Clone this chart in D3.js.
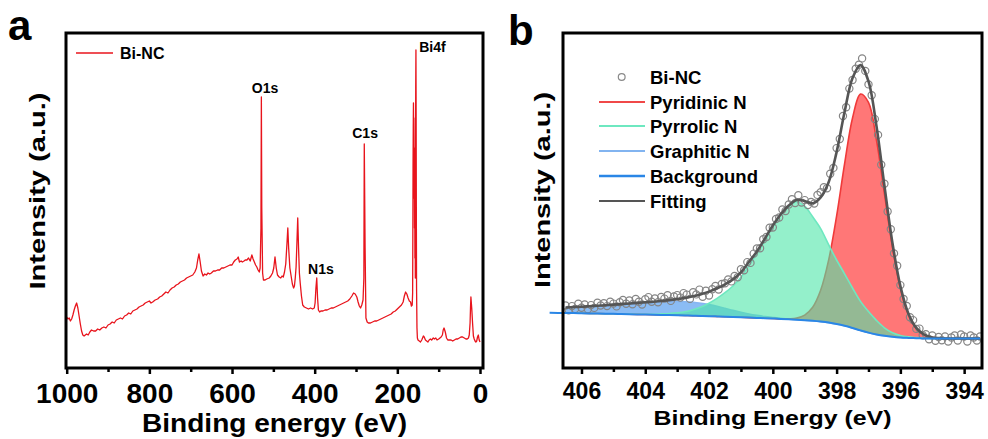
<!DOCTYPE html>
<html><head><meta charset="utf-8">
<script src="https://cdn.jsdelivr.net/npm/d3@7"></script>
<style>
body{margin:0;background:#fff}
text{font-family:"Liberation Sans",Arial,sans-serif;font-weight:bold;fill:#000}
</style>
</head><body>
<svg id="c" width="988" height="439"></svg>
<script>
// ---------- Panel a: survey spectrum ----------
const surveyEnergy = [1000,997,994,991,988,985,982,979,976,973,970,967,964,961,958,955,952,948,944,940,935,930,925,920,915,910,905,900,895,890,885,880,875,870,865,860,855,850,845,840,835,830,825,820,815,810,805,800,796,792,786,780,775,770,765,760,755,750,745,740,735,730,725,720,715,710,705,700,695,690,686,683,680,677,674,670,666,662,658,654,650,645,640,635,630,625,620,615,610,605,600,596,592,588,585,582,578,575,571,568,564,560,556,552,549,546,543,540,537,534,532,530,529,528,526,524,520,516,510,506,502,499,496,493,490,486,482,479,476,473,470,467,465,463,460,457,454,451,449,447,445,443,441,439,437,435,432,429,425,420,415,410,405,401,399,397,395,393,391,388,385,380,375,370,365,360,355,350,345,340,335,330,325,320,315,310,306,302,298,295,292,289,286,283,281,280,278,276,273,270,265,260,255,250,245,240,235,230,225,220,215,210,205,200,195,190,186,183,180,177,174,171,168,166,164,163,162.5,162,161.5,161,160.5,160,159.5,159,158.5,158,157.5,157,156.5,156,155.5,155,154.5,154,153.5,152.5,151.5,150,147,144,141,139,137,135,132,129,126,123,120,117,113,110,107,104,100,97,94,91,89,87,84,81,78,74,70,66,62,58,54,50,46,42,38,34,31,28,26,24,23,22,20,18,16,14,12,10,8,6,4,2,0];
const surveyIntensity = [51,49,50,47,49,53,58,62,65,60,52,44,37,33,32,33,34,33,36,38,37,37,39,38,40,41,40,43,44,46,45,48,49,50,49,52,53,55,54,57,58,59,61,62,63,65,66,67,65,66,68,69,71,72,74,76,75,78,80,81,83,84,86,87,88,90,91,92,93,96,100,108,114,106,97,92,94,93,95,94,95,97,97,98,98,100,100,101,102,103,103,106,108,109,111,106,107,106,107,108,108,110,107,113,109,106,103,101,98,96,100,140,271,160,95,88,88,89,90,92,95,100,111,100,93,91,90,92,91,96,104,125,140,120,100,92,84,80,82,90,101,125,150,120,95,85,72,63,61,60,59,60,59,60,65,80,90,70,58,56,57,57,58,58,59,60,60,61,62,63,64,65,66,67,69,72,75,74,71,66,62,60,63,68,90,224,120,50,46,45,45,46,47,47,48,49,50,51,52,53,54,56,57,59,61,63,66,72,76,74,70,67,66,62,63,75,130,200,240,265,225,250,170,220,140,200,110,180,90,230,280,318,250,150,80,40,30,28,27,26,28,30,32,31,28,27,26,28,29,28,30,29,30,28,29,30,31,33,38,40,36,30,28,28,28,27,28,29,29,30,31,31,30,29,29,30,33,45,60,71,60,45,32,29,27,26,27,31,33,28,26,28];
const surveyTicks = [1000,800,600,400,200,0];
const surveyMinorTicks = [900,700,500,300,100];
const peakLabels = ["O1s","C1s","N1s","Bi4f"];
const peakLabelEnergy = [520,278,385,147];
const peakLabelIntensity = [275,230,94,316];

// ---------- Panel b: N1s high-resolution ----------
const fitEnergy = [406.5,406.25,406,405.75,405.5,405.25,405,404.75,404.5,404.25,404,403.75,403.5,403.25,403,402.75,402.5,402.25,402,401.75,401.5,401.25,401,400.75,400.5,400.25,400,399.75,399.5,399.25,399,398.75,398.5,398.25,398,397.75,397.5,397.25,397,396.75,396.5,396.25,396,395.75,395.5,395.25,395,394.75,394.5,394.25,394,393.75,393.5];
const background = [55.0,55.0,54.8,54.6,54.5,54.3,54.2,54.0,53.8,53.6,53.5,53.3,53.1,52.9,52.7,52.5,52.3,52.0,51.8,51.6,51.3,51.0,50.7,50.4,50.1,49.8,49.5,49.1,48.7,48.3,47.8,47.2,46.4,45.4,44.0,42.2,40.0,37.6,35.4,33.6,32.2,31.2,30.5,30.1,29.8,29.6,29.5,29.5,29.5,29.5,29.5,29.5,29.5];
const pyridinicN = [0,0,0,0,0,0,0,0,0,0,0,0,0,0,0,0,0,0,0,0,0,0,0,0,0,0,0,0,0.5,1.6,5.1,13.5,31.3,62.4,107.9,161.8,210.0,236.3,230.2,194.4,142.1,90.1,49.4,23.5,9.7,3.5,1.1,0.3,0,0,0,0,0];
const pyrrolicN = [0,0,0,0,0,0,0,0,0.1,0.2,0.3,0.5,1.0,1.6,2.5,3.8,6.0,9.0,13.0,18.0,24.0,31.0,40.0,52.0,64.0,78.0,92.0,104.0,113.0,118.0,114.0,104.0,93.0,78.0,64.0,52.0,40.0,29.0,21.0,14.0,8.0,4.0,2.0,1.0,0.6,0.3,0,0,0,0,0,0,0];
const graphiticN = [5.5,6.0,6.5,7.2,7.8,8.5,9.2,9.9,10.6,11.3,11.9,12.5,13.0,13.4,13.7,13.8,13.5,12.8,11.6,10.1,8.4,6.6,5.0,3.6,2.5,1.6,1.0,0.6,0.3,0.1,0,0,0,0,0,0,0,0,0,0,0,0,0,0,0,0,0,0,0,0,0,0,0];
const backgroundLeftEnd = [407.0, 55.2];
const rawEnergy = [406.5,406.4,406.3,406.2,406.1,406.0,405.9,405.8,405.7,405.6,405.5,405.4,405.3,405.2,405.1,405.0,404.9,404.8,404.7,404.6,404.5,404.4,404.3,404.2,404.1,404.0,403.9,403.8,403.7,403.6,403.5,403.4,403.3,403.2,403.1,403.0,402.9,402.8,402.7,402.6,402.5,402.4,402.3,402.2,402.1,402.0,401.9,401.8,401.7,401.6,401.5,401.4,401.3,401.2,401.1,401.0,400.9,400.8,400.7,400.6,400.5,400.4,400.3,400.2,400.1,400.0,399.9,399.8,399.7,399.6,399.5,399.4,399.3,399.2,399.1,399.0,398.9,398.8,398.7,398.6,398.5,398.4,398.3,398.2,398.1,398.0,397.9,397.8,397.7,397.6,397.5,397.4,397.3,397.2,397.1,397.0,396.9,396.8,396.7,396.6,396.5,396.4,396.3,396.2,396.1,396.0,395.9,395.8,395.7,395.6,395.5,395.4,395.3,395.2,395.1,395.0,394.9,394.8,394.7,394.6,394.5,394.4,394.3,394.2,394.1,394.0,393.9,393.8,393.7,393.6,393.5];
const rawIntensity = [62.5,57.7,61.9,59.1,64.2,60.3,63.5,58.7,62.9,60.1,65.3,62.5,64.7,61.9,66.2,64.4,61.6,65.8,68.0,64.3,67.5,63.7,69.0,66.2,63.5,68.7,70.9,66.2,69.5,65.8,71.1,69.4,72.7,67.1,71.5,72.9,70.4,74.9,73.4,69.1,75.8,73.6,78.4,71.3,77.3,72.4,78.7,82.0,78.5,84.1,84.7,88.6,86.6,92.0,90.8,98.7,97.8,105.9,105.1,114.4,119.6,119.7,128.8,131.0,140.3,140.5,149.0,150.5,158.5,157.0,163.5,168.7,164.9,172.8,165.4,167.9,163.0,166.1,164.5,173.1,175.7,180.7,179.8,194.2,200.1,219.9,229.0,252.0,260.8,279.4,288.0,299.2,303.3,309.6,297.1,283.6,272.8,248.9,233.1,203.2,184.3,156.5,138.7,114.6,102.3,82.9,69.0,62.1,50.7,47.9,39.1,39.4,32.7,33.8,28.7,32.6,27.3,31.0,27.7,31.6,26.5,30.5,32.5,27.5,33.5,31.5,26.5,32.5,30.5,27.5,31.5];
const nTicks = [406,404,402,400,398,396,394];
const nMinorTicks = [405,403,401,399,397,395];
const legendLabels = ["Bi-NC","Pyridinic N","Pyrrolic N","Graphitic N","Background","Fitting"];
const legendColors = ["#8a8a8a","#f04848","#6ee8c0","#82b4f0","#2a86e6","#555555"];

const svg = d3.select("#c");

// ===== Panel a =====
const ax = d3.scaleLinear().domain([1000,0]).range([66.7,480]);
const ay = d3.scaleLinear().domain([0,335]).range([368,33]);
const survey = surveyEnergy.map((e,i)=>({e, v: surveyIntensity[i]}));
svg.append("path").datum(survey)
  .attr("fill","none").attr("stroke","#e8141c").attr("stroke-width",1.3).attr("stroke-linejoin","round")
  .attr("d", d3.line().x(d=>ax(d.e)).y(d=>ay(d.v)));

const gAx = svg.append("g").attr("transform","translate(0,368)")
  .call(d3.axisBottom(ax).tickValues(surveyTicks).tickSize(6).tickPadding(9).tickFormat(d3.format("d")));
gAx.select(".domain").remove();
gAx.selectAll(".tick line").attr("stroke","#000").attr("stroke-width",2.5);
gAx.selectAll("text").style("font-size","28px").attr("font-family",null);
const gAm = svg.append("g").attr("transform","translate(0,368)")
  .call(d3.axisBottom(ax).tickValues(surveyMinorTicks).tickSize(4).tickFormat(""));
gAm.select(".domain").remove();
gAm.selectAll(".tick line").attr("stroke","#000").attr("stroke-width",2.5);

svg.append("rect").attr("x",66).attr("y",33).attr("width",417).attr("height",335)
  .attr("fill","none").attr("stroke","#000").attr("stroke-width",3);

peakLabels.forEach((t,i)=>{
  svg.append("text").attr("x",ax(peakLabelEnergy[i])).attr("y",ay(peakLabelIntensity[i]))
    .attr("text-anchor", t==="Bi4f" ? "start" : "middle").style("font-size","14px").text(t);
});
svg.append("line").attr("x1",76).attr("x2",113).attr("y1",53).attr("y2",53).attr("stroke","#e8141c").attr("stroke-width",1.5);
svg.append("text").attr("x",120).attr("y",59).style("font-size","16px").text("Bi-NC");

svg.append("text").attr("x",274.5).attr("y",432).attr("text-anchor","middle")
  .attr("textLength",265).attr("lengthAdjust","spacingAndGlyphs").style("font-size","26px").text("Binding energy (eV)");
svg.append("text").attr("transform","translate(45,191) rotate(-90)").attr("text-anchor","middle")
  .attr("textLength",197).attr("lengthAdjust","spacingAndGlyphs").style("font-size","22px").text("Intensity (a.u.)");
svg.append("text").attr("x",8).attr("y",40).style("font-size","42px").text("a");

// ===== Panel b =====
const bx = d3.scaleLinear().domain([406.58,393.44]).range([563,982]);
const by = d3.scaleLinear().domain([0,335]).range([368,33]);
const rows = fitEnergy.map((e,i)=>({e, bg: background[i], py: pyridinicN[i], pr: pyrrolicN[i], gr: graphiticN[i]}));
rows.forEach(r=>{ r.fit = r.bg + r.py + r.pr + r.gr; });

svg.append("clipPath").attr("id","clipb").append("rect").attr("x",564).attr("y",34).attr("width",417).attr("height",333);
const gb = svg.append("g").attr("clip-path","url(#clipb)");
const curve = d3.curveCatmullRom.alpha(0.5);
function comp(key, fill, op, stroke){
  gb.append("path").datum(rows).attr("fill",fill).attr("fill-opacity",op)
    .attr("d", d3.area().curve(curve).x(d=>bx(d.e)).y0(d=>by(d.bg)).y1(d=>by(d.bg+d[key])));
  gb.append("path").datum(rows).attr("fill","none").attr("stroke",stroke).attr("stroke-width",1.6)
    .attr("d", d3.line().curve(curve).x(d=>bx(d.e)).y(d=>by(d.bg+d[key])));
}
comp("gr","#5a9ff0",0.7,"#86b6f2");
comp("py","#ff4a4a",0.75,"#f03a3a");
comp("pr","#4de6a8",0.6,"#6ee8c0");

// background line (extends slightly beyond frame at left)
const bgLine = [{e: backgroundLeftEnd[0], bg: backgroundLeftEnd[1]}].concat(rows);
svg.append("path").datum(bgLine).attr("fill","none").attr("stroke","#2a86e6").attr("stroke-width",2)
  .attr("d", d3.line().curve(curve).x(d=>bx(d.e)).y(d=>by(d.bg)));

const raw = rawEnergy.map((e,i)=>({e, v: rawIntensity[i]}));
gb.selectAll("circle.raw").data(raw).join("circle").attr("class","raw")
  .attr("cx",d=>bx(d.e)).attr("cy",d=>by(d.v)).attr("r",3.6)
  .attr("fill","none").attr("stroke","#858585").attr("stroke-width",1.2);

gb.append("path").datum(rows).attr("fill","none").attr("stroke","#555").attr("stroke-width",2.6)
  .attr("d", d3.line().curve(curve).x(d=>bx(d.e)).y(d=>by(d.fit)));

const gBx = svg.append("g").attr("transform","translate(0,368)")
  .call(d3.axisBottom(bx).tickValues(nTicks).tickSize(6).tickPadding(9).tickFormat(d3.format("d")));
gBx.select(".domain").remove();
gBx.selectAll(".tick line").attr("stroke","#000").attr("stroke-width",2.5);
gBx.selectAll("text").style("font-size","23px").attr("font-family",null);
const gBm = svg.append("g").attr("transform","translate(0,368)")
  .call(d3.axisBottom(bx).tickValues(nMinorTicks).tickSize(4).tickFormat(""));
gBm.select(".domain").remove();
gBm.selectAll(".tick line").attr("stroke","#000").attr("stroke-width",2.5);

svg.append("rect").attr("x",563).attr("y",33).attr("width",419).attr("height",335)
  .attr("fill","none").attr("stroke","#000").attr("stroke-width",3);

const legY = [77,102,126,151,176,201];
legendLabels.forEach((t,i)=>{
  if(i===0){
    svg.append("circle").attr("cx",621.7).attr("cy",legY[i]).attr("r",3.4)
      .attr("fill","none").attr("stroke",legendColors[i]).attr("stroke-width",1.2);
  } else {
    svg.append("line").attr("x1",599).attr("x2",645).attr("y1",legY[i]).attr("y2",legY[i])
      .attr("stroke",legendColors[i]).attr("stroke-width",i===4?2.5:2);
  }
  svg.append("text").attr("x",650).attr("y",legY[i]+6.5).style("font-size","18.5px").text(t);
});

svg.append("text").attr("x",772.5).attr("y",425).attr("text-anchor","middle")
  .attr("textLength",238).attr("lengthAdjust","spacingAndGlyphs").style("font-size","20.5px").text("Binding Energy (eV)");
svg.append("text").attr("transform","translate(550,190) rotate(-90)").attr("text-anchor","middle")
  .attr("textLength",196).attr("lengthAdjust","spacingAndGlyphs").style("font-size","22px").text("Intensity (a.u.)");
svg.append("text").attr("x",508).attr("y",45).style("font-size","42px").text("b");
</script>
</body></html>
